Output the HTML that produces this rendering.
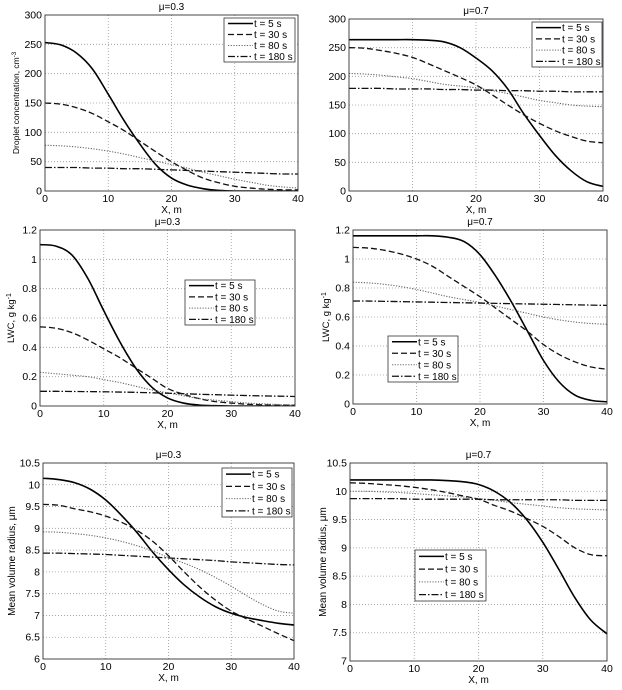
<!DOCTYPE html>
<html><head><meta charset="utf-8"><style>
html,body{margin:0;padding:0;background:#fff}
svg{display:block;font-family:"Liberation Sans",Arial,sans-serif}
</style></head><body>
<svg id="fig" width="622" height="690" viewBox="0 0 622 690"></svg>
<script>
const xs = [0,2.5,5,7.5,10,12.5,15,17.5,20,22.5,25,27.5,30,32.5,35,37.5,40];
const seriesNames = ["t = 5 s","t = 30 s","t = 80 s","t = 180 s"];
const xTicks = [0,10,20,30,40];

const conc03_t5 = [253,249,235,208,165,120,80,45,22,10,4,1,0,0,0,0,0];
const conc03_t30 = [150,148,142,132,118,103,85,67,50,35,22,14,8,5,3,2,2];
const conc03_t80 = [78,77,75,72,68,63,57,51,45,39,32,26,20,15,10,7,5];
const conc03_t180 = [40,40,40,39,39,38,38,37,36,35,34,33,32,31,30,29,29];

const conc07_t5 = [264,264,264,264,264,263,260,250,232,210,178,135,97,62,35,16,8];
const conc07_t30 = [250,249,245,240,233,222,210,198,185,168,150,133,118,105,95,87,84];
const conc07_t80 = [205,204,202,199,196,191,186,183,180,175,170,164,158,154,150,148,147];
const conc07_t180 = [179,179,179,178,178,178,177,177,176,176,175,175,174,174,173,173,173];

const lwc03_t5 = [1.1,1.09,1.03,0.87,0.65,0.44,0.26,0.13,0.055,0.02,0.006,0.002,0,0,0,0,0];
const lwc03_t30 = [0.54,0.53,0.5,0.45,0.39,0.33,0.26,0.19,0.12,0.08,0.05,0.03,0.02,0.012,0.008,0.006,0.005];
const lwc03_t80 = [0.23,0.22,0.21,0.2,0.18,0.16,0.135,0.11,0.09,0.07,0.05,0.04,0.03,0.02,0.015,0.01,0.008];
const lwc03_t180 = [0.1,0.1,0.099,0.098,0.097,0.095,0.093,0.09,0.087,0.084,0.08,0.077,0.074,0.071,0.069,0.067,0.065];

const lwc07_t5 = [1.16,1.16,1.16,1.16,1.16,1.16,1.15,1.12,1.03,0.88,0.7,0.5,0.3,0.15,0.06,0.025,0.015];
const lwc07_t30 = [1.08,1.075,1.06,1.035,1.0,0.95,0.88,0.81,0.74,0.66,0.58,0.5,0.41,0.34,0.29,0.255,0.24];
const lwc07_t80 = [0.84,0.835,0.825,0.81,0.79,0.765,0.74,0.72,0.7,0.675,0.65,0.625,0.6,0.58,0.565,0.555,0.55];
const lwc07_t180 = [0.71,0.71,0.708,0.706,0.704,0.702,0.7,0.698,0.696,0.694,0.692,0.69,0.688,0.686,0.684,0.682,0.68];

const rad03_t5 = [10.15,10.12,10.05,9.9,9.65,9.3,8.9,8.45,8.05,7.7,7.42,7.2,7.05,6.95,6.88,6.82,6.78];
const rad03_t30 = [9.55,9.53,9.45,9.38,9.28,9.14,8.95,8.7,8.37,8.0,7.65,7.35,7.1,6.92,6.75,6.58,6.42];
const rad03_t80 = [8.92,8.91,8.88,8.84,8.78,8.7,8.6,8.48,8.33,8.2,8.05,7.87,7.67,7.45,7.25,7.1,7.05];
const rad03_t180 = [8.43,8.43,8.42,8.41,8.4,8.38,8.36,8.34,8.32,8.3,8.28,8.26,8.23,8.21,8.19,8.17,8.16];

const rad07_t5 = [10.2,10.2,10.2,10.2,10.2,10.2,10.19,10.17,10.12,10.0,9.8,9.5,9.1,8.62,8.12,7.72,7.48];
const rad07_t30 = [10.15,10.14,10.12,10.1,10.07,10.03,9.98,9.92,9.86,9.75,9.65,9.52,9.38,9.2,9.0,8.88,8.86];
const rad07_t80 = [10.0,10.0,9.99,9.98,9.96,9.94,9.92,9.9,9.87,9.84,9.8,9.77,9.74,9.71,9.69,9.68,9.67];
const rad07_t180 = [9.87,9.87,9.87,9.87,9.86,9.86,9.86,9.86,9.86,9.85,9.85,9.85,9.85,9.85,9.84,9.84,9.84];

const concTicks = [0,50,100,150,200,250,300];
const lwcTicks = [0,0.2,0.4,0.6,0.8,1,1.2];
const rad03Ticks = [6,6.5,7,7.5,8,8.5,9,9.5,10,10.5];
const rad07Ticks = [7,7.5,8,8.5,9,9.5,10,10.5];

const NS="http://www.w3.org/2000/svg";
const fig=document.getElementById('fig');
function mk(tag,attrs,parent){const e=document.createElementNS(NS,tag);for(const k in attrs)e.setAttribute(k,attrs[k]);(parent||fig).appendChild(e);return e;}
const styles=[{w:1.6,d:"",c:"#000"},{w:1.3,d:"6,3",c:"#111"},{w:1.1,d:"1.2,1.5",c:"#666"},{w:1.3,d:"7,2,1.5,2",c:"#111"}];

function smooth(pts){let d="M"+pts[0][0].toFixed(2)+","+pts[0][1].toFixed(2);
 for(let i=0;i<pts.length-1;i++){const p0=pts[Math.max(0,i-1)],p1=pts[i],p2=pts[i+1],p3=pts[Math.min(pts.length-1,i+2)];
  const c1=[p1[0]+(p2[0]-p0[0])/6,p1[1]+(p2[1]-p0[1])/6],c2=[p2[0]-(p3[0]-p1[0])/6,p2[1]-(p3[1]-p1[1])/6];
  d+=" C"+c1[0].toFixed(2)+","+c1[1].toFixed(2)+" "+c2[0].toFixed(2)+","+c2[1].toFixed(2)+" "+p2[0].toFixed(2)+","+p2[1].toFixed(2);}
 return d;}

function panel(p){
 const g=mk('g',{});
 
 
 const yMin=p.yTicks[0],yMax=p.yTicks[p.yTicks.length-1];
 const X=v=>p.L+(v-0)/40*(p.R-p.L);
 const Y=v=>p.B-(v-yMin)/(yMax-yMin)*(p.B-p.T);
 mk('rect',{x:p.L,y:p.T,width:p.R-p.L,height:p.B-p.T,fill:"#fff"},g);
 xTicks.forEach(t=>{
  if(t>0&&t<40){const l=mk('line',{x1:X(t),x2:X(t),y1:p.T,y2:p.B,stroke:"#999","stroke-width":0.8,"stroke-dasharray":"1,2"},g);
   }
  const tx=mk('text',{x:X(t),y:p.B+11,"font-size":10.5,"text-anchor":"middle"},g);tx.textContent=t;
  
 });
 p.yTicks.forEach(t=>{
  if(t>yMin&&t<yMax){const l=mk('line',{x1:p.L,x2:p.R,y1:Y(t),y2:Y(t),stroke:"#999","stroke-width":0.8,"stroke-dasharray":"1,2"},g);
   }
  const tx=mk('text',{x:p.L-3,y:Y(t)+3.5,"font-size":10.5,"text-anchor":"end"},g);tx.textContent=t;
  
 });
 const clip='c'+p.name;const cp=mk('clipPath',{id:clip},g);mk('rect',{x:p.L,y:p.T,width:p.R-p.L,height:p.B-p.T},cp);
 p.series.forEach((s,i)=>{
  const pts=xs.map((x,j)=>[X(x),Y(s[j])]);
  const st=styles[i];
  const path=mk('path',{d:smooth(pts),fill:"none",stroke:st.c,"stroke-width":st.w,"stroke-dasharray":st.d,"clip-path":"url(#"+clip+")"},g);
  
  
 });
 mk('rect',{x:p.L,y:p.T,width:p.R-p.L,height:p.B-p.T,fill:"none",stroke:"#333","stroke-width":0.9},g);
 const ti=mk('text',{x:(p.L+p.R)/2,y:p.T-5,"font-size":10,"text-anchor":"middle"},g);ti.textContent="\u03bc="+p.mu;
 
 const xl=mk('text',{x:(p.L+p.R)/2,y:p.B+22,"font-size":10,"text-anchor":"middle"},g);xl.textContent="X, m";
 
 if(p.ylabel){const yl=mk('text',{x:0,y:0,"font-size":p.ylfs,"text-anchor":"middle",transform:"translate("+p.ylx+","+((p.T+p.B)/2)+") rotate(-90)"},g);
  yl.innerHTML=p.ylabel;}
 const lg=mk('g',{},g);
 const [lx,ly,lw,lh]=p.leg;
 mk('rect',{x:lx,y:ly,width:lw,height:lh,fill:"#fff",stroke:"#333","stroke-width":0.8},lg);
 const step=lh/4;
 seriesNames.forEach((n,i)=>{const yy=ly+step*(i+0.5);const st=styles[i];
  const ln=mk('line',{x1:lx+4,x2:lx+29,y1:yy,y2:yy,stroke:st.c,"stroke-width":st.w,"stroke-dasharray":st.d},lg);
  
  const t=mk('text',{x:lx+30,y:yy+3.5,"font-size":10},lg);t.textContent=n;
  });
}
panel({name:"conc-mu03",mu:"0.3",L:45,R:298,T:15,B:191,yTicks:concTicks,series:[conc03_t5,conc03_t30,conc03_t80,conc03_t180],
 ylabel:'Droplet concentration, cm<tspan dy="-3" font-size="6">-3</tspan>',ylfs:8.5,ylx:19,leg:[224,18,71,44]});
panel({name:"conc-mu07",mu:"0.7",L:349,R:603,T:19,B:191,yTicks:concTicks,series:[conc07_t5,conc07_t30,conc07_t80,conc07_t180],
 ylabel:null,leg:[532,22,70,45]});
panel({name:"lwc-mu03",mu:"0.3",L:40,R:295,T:230,B:406,yTicks:lwcTicks,series:[lwc03_t5,lwc03_t30,lwc03_t80,lwc03_t180],
 ylabel:'LWC, g kg<tspan dy="-3" font-size="7">-1</tspan>',ylfs:9.5,ylx:14,leg:[185,280,70,45]});
panel({name:"lwc-mu07",mu:"0.7",L:353,R:607,T:230,B:404,yTicks:lwcTicks,series:[lwc07_t5,lwc07_t30,lwc07_t80,lwc07_t180],
 ylabel:'LWC, g kg<tspan dy="-3" font-size="7">-1</tspan>',ylfs:9.5,ylx:329,leg:[388,336,70,46]});
panel({name:"radius-mu03",mu:"0.3",L:43,R:294,T:463,B:659,yTicks:rad03Ticks,series:[rad03_t5,rad03_t30,rad03_t80,rad03_t180],
 ylabel:'Mean volume radius, \u03bcm',ylfs:10,ylx:15,leg:[222,468,70,49]});
panel({name:"radius-mu07",mu:"0.7",L:350,R:607,T:463,B:661,yTicks:rad07Ticks,series:[rad07_t5,rad07_t30,rad07_t80,rad07_t180],
 ylabel:'Mean volume radius, \u03bcm',ylfs:10,ylx:326,leg:[415,550,71,51]});
</script>
</body></html>
